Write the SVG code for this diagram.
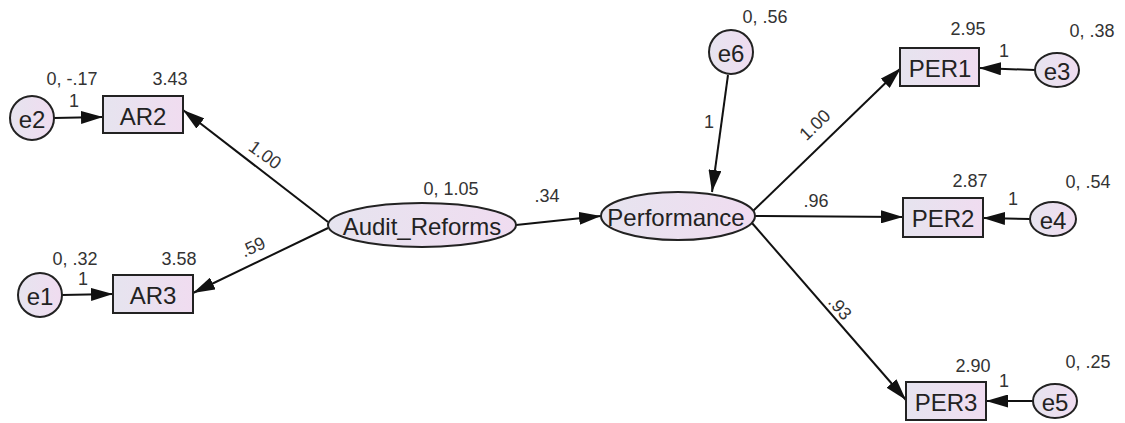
<svg xmlns="http://www.w3.org/2000/svg" width="1125" height="423" viewBox="0 0 1125 423">
  <defs>
    <linearGradient id="fillGrad" x1="0" y1="0" x2="1" y2="0">
      <stop offset="0" stop-color="#e6e4ef"/>
      <stop offset="1" stop-color="#f0dcf0"/>
    </linearGradient>
    <marker id="arrow" viewBox="0 0 22 13" refX="22" refY="6.5" markerWidth="22" markerHeight="13" markerUnits="userSpaceOnUse" orient="auto">
      <path d="M0,0 L22,6.5 L0,13 Z" fill="#111"/>
    </marker>
    <style>
      .node { fill: url(#fillGrad); stroke: #222; stroke-width: 2; }
      .lbl { font-family: "Liberation Sans", Arial, sans-serif; font-size: 24px; fill: #222; text-anchor: middle; dominant-baseline: central; }
      .val { font-family: "Liberation Sans", Arial, sans-serif; font-size: 18px; fill: #333; text-anchor: middle; }
      .edge { stroke: #111; stroke-width: 2; fill: none; marker-end: url(#arrow); }
    </style>
  </defs>
  <rect width="1125" height="423" fill="#ffffff"/>

  <!-- connectors -->
  <g id="connectors">
    <line class="edge" x1="54" y1="118" x2="103" y2="117"/>
    <line class="edge" x1="62" y1="295" x2="113" y2="294"/>
    <line class="edge" x1="328" y1="222" x2="183" y2="110"/>
    <line class="edge" x1="328" y1="228" x2="193" y2="293"/>
    <line class="edge" x1="516" y1="225" x2="601" y2="216"/>
    <line class="edge" x1="728" y1="75" x2="712" y2="192"/>
    <line class="edge" x1="753" y1="211" x2="901" y2="68"/>
    <line class="edge" x1="755" y1="216" x2="903" y2="217"/>
    <line class="edge" x1="752" y1="223" x2="906" y2="400"/>
    <line class="edge" x1="1035" y1="70" x2="979" y2="68"/>
    <line class="edge" x1="1030" y1="219" x2="983" y2="218"/>
    <line class="edge" x1="1033" y1="401" x2="986" y2="401"/>
    <!-- path coefficients -->
    <text class="val" x="265" y="161" transform="rotate(36 265 155)">1.00</text>
    <text class="val" x="253" y="253" transform="rotate(-25 253 247)">.59</text>
    <text class="val" x="547" y="202">.34</text>
    <text class="val" x="709" y="128">1</text>
    <text class="val" x="815" y="131" transform="rotate(-44 815 125)">1.00</text>
    <text class="val" x="816" y="207">.96</text>
    <text class="val" x="840" y="314" transform="rotate(49 840 308)">.93</text>
    <text class="val" x="74" y="107">1</text>
    <text class="val" x="83" y="285">1</text>
    <text class="val" x="1004" y="57">1</text>
    <text class="val" x="1013" y="205">1</text>
    <text class="val" x="1004" y="387">1</text>
  </g>

  <g id="e2">
    <circle class="node" cx="32" cy="118" r="22"/>
    <text class="lbl" x="32" y="119">e2</text>
    <text class="val" x="72" y="85">0, -.17</text>
  </g>
  <g id="AR2">
    <rect class="node" x="103" y="96" width="80" height="37"/>
    <text class="lbl" x="143" y="116">AR2</text>
    <text class="val" x="170" y="85">3.43</text>
  </g>
  <g id="e1">
    <circle class="node" cx="40" cy="295" r="22"/>
    <text class="lbl" x="40" y="296">e1</text>
    <text class="val" x="75" y="265">0, .32</text>
  </g>
  <g id="AR3">
    <rect class="node" x="113" y="275" width="80" height="38"/>
    <text class="lbl" x="153" y="295">AR3</text>
    <text class="val" x="179" y="265">3.58</text>
  </g>
  <g id="Audit_Reforms">
    <ellipse class="node" cx="422" cy="225" rx="94" ry="22"/>
    <text class="lbl" x="422" y="226">Audit_Reforms</text>
    <text class="val" x="451" y="195">0, 1.05</text>
  </g>
  <g id="Performance">
    <ellipse class="node" cx="678" cy="216" rx="77" ry="24"/>
    <text class="lbl" x="676" y="217">Performance</text>
  </g>
  <g id="e6">
    <circle class="node" cx="731" cy="52" r="22"/>
    <text class="lbl" x="731" y="53">e6</text>
    <text class="val" x="765" y="23">0, .56</text>
  </g>
  <g id="PER1">
    <rect class="node" x="900" y="48" width="79" height="38"/>
    <text class="lbl" x="940" y="68">PER1</text>
    <text class="val" x="968" y="35">2.95</text>
  </g>
  <g id="e3">
    <ellipse class="node" cx="1057" cy="70" rx="22" ry="17"/>
    <text class="lbl" x="1057" y="71">e3</text>
    <text class="val" x="1092" y="37">0, .38</text>
  </g>
  <g id="PER2">
    <rect class="node" x="903" y="198" width="80" height="39"/>
    <text class="lbl" x="943" y="218">PER2</text>
    <text class="val" x="970" y="187">2.87</text>
  </g>
  <g id="e4">
    <ellipse class="node" cx="1053" cy="219" rx="23" ry="17"/>
    <text class="lbl" x="1053" y="220">e4</text>
    <text class="val" x="1088" y="188">0, .54</text>
  </g>
  <g id="PER3">
    <rect class="node" x="906" y="382" width="80" height="38"/>
    <text class="lbl" x="946" y="402">PER3</text>
    <text class="val" x="973" y="372">2.90</text>
  </g>
  <g id="e5">
    <ellipse class="node" cx="1055" cy="401" rx="22" ry="17"/>
    <text class="lbl" x="1055" y="402">e5</text>
    <text class="val" x="1088" y="368">0, .25</text>
  </g>
</svg>
